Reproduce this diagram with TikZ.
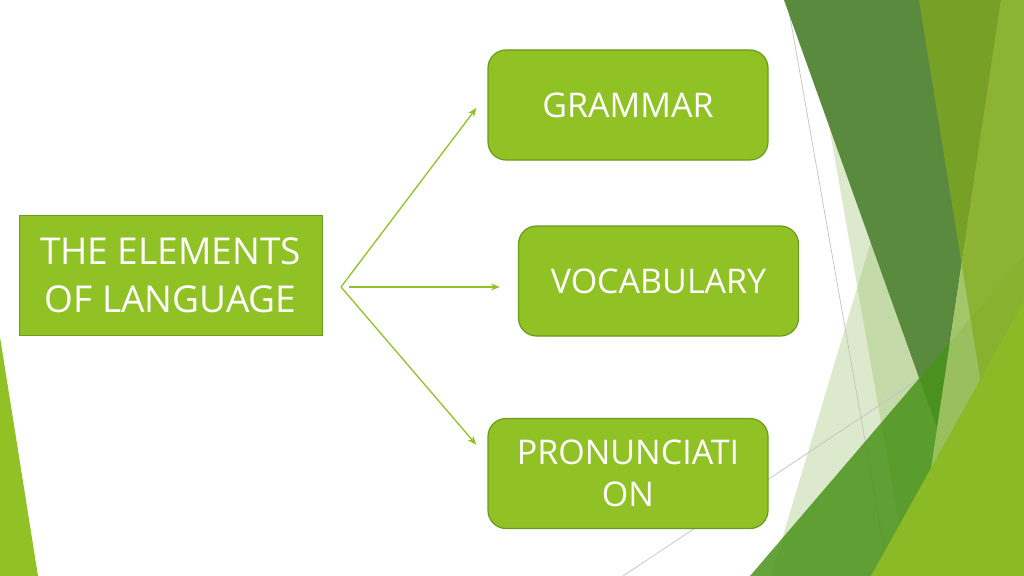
\documentclass[tikz,border=0pt]{standalone}
\usepackage{fontspec}
\setmainfont{Open Sans}
\usepackage{tikz}
\usetikzlibrary{arrows.meta, positioning, calc}
\definecolor{facetGreen}{HTML}{90C226}
\definecolor{facetEdge}{HTML}{6A9A1E}
\definecolor{facetPale}{HTML}{8DB755}
\definecolor{facetDark}{HTML}{5A8A3E}
\definecolor{facetMid}{HTML}{49931A}
\definecolor{facetLight}{HTML}{A0C464}
\definecolor{facetOlive}{HTML}{82AC1C}
\definecolor{facetBright}{HTML}{8BBA27}
\definecolor{hairline}{HTML}{C4C4C4}
\tikzstyle{heading} = [rectangle, draw=facetEdge, line width=1pt, fill=facetGreen, text=white, align=center, inner sep=0pt, minimum width=303pt, minimum height=120pt, font=\fontsize{37}{48}\selectfont]
\tikzstyle{element} = [rectangle, rounded corners=18pt, draw=facetEdge, line width=1.2pt, fill=facetGreen, text=white, align=center, inner sep=0pt, minimum width=280pt, minimum height=110pt, font=\fontsize{34}{42}\selectfont]
\tikzstyle{branch} = [-{Stealth[length=9pt, width=7pt]}, facetGreen, line width=1.3pt]
\tikzstyle{guide} = [hairline, line width=0.75pt]

\begin{document}
\begin{tikzpicture}[x=1pt, y=-1pt]
    \useasboundingbox (0,0) rectangle (1024,575);

    % Facets
    \begin{scope}
        \clip (0,0) rectangle (1024,575);
        \fill[facetPale, opacity=0.3] (943,0) -- (1024,0) -- (1024,576) -- (771,576) -- cycle;
        \fill[facetPale, opacity=0.3] (807,0) -- (1024,0) -- (1024,576) -- (908,576) -- cycle;
        \draw[guide] (787,0) -- (889,576);
        \draw[guide] (623,576) -- (1024,309);
        \fill[facetDark] (784,0) -- (1001,0) -- (937,428) -- cycle;
        \fill[facetMid, opacity=0.85] (750,576) -- (1024,256) -- (1024,576) -- cycle;
        \fill[facetLight, opacity=0.9] (1001,0) -- (1024,0) -- (1024,576) -- (915,576) -- cycle;
        \fill[facetOlive, opacity=0.7] (919,0) -- (1024,0) -- (1024,576) -- (1012,576) -- cycle;
        \fill[facetBright] (871,576) -- (1024,301) -- (1024,576) -- cycle;
        \fill[facetGreen] (0,337) -- (38,576) -- (0,576) -- cycle;
    \end{scope}

    % Topic
    \node[heading] (elements) at (170.5,275) {THE ELEMENTS\\OF LANGUAGE};

    % Elements
    \node[element] (grammar) at (628,105) {GRAMMAR};
    \node[element] (vocabulary) at (658.5,281) {VOCABULARY};
    \node[element] (pronunciation) at (628,473.5) {PRONUNCIATI\\ON};

    % Branches
    \coordinate (fork) at (341,287);
    \draw[branch, shorten >=18pt] (fork) -- ($(grammar.west)+(0,-11.5)$); % to grammar
    \draw[branch, shorten <=8pt, shorten >=18pt] (fork) -- (fork -| vocabulary.west); % to vocabulary
    \draw[branch, shorten >=17pt] (fork) -- ($(pronunciation.west)+(0,-15.8)$); % to pronunciation
\end{tikzpicture}
\end{document}
